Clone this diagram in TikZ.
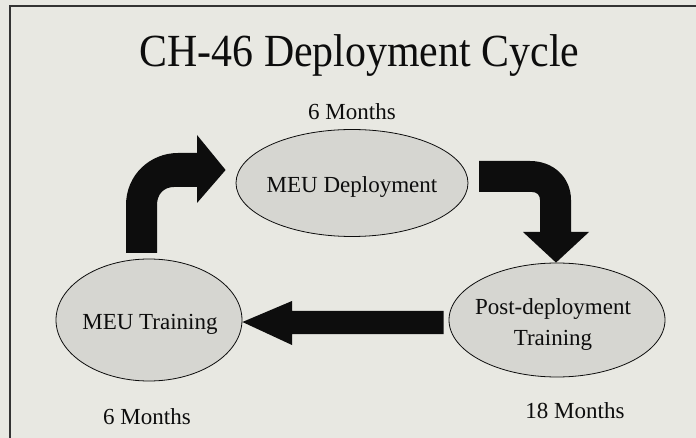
\documentclass[tikz,border=0pt]{standalone}
\usepackage{fontspec}
\setmainfont{Liberation Serif}
\usetikzlibrary{shapes.geometric}
\definecolor{bgc}{HTML}{E8E8E2}
\definecolor{ellfill}{HTML}{D6D6D1}
\definecolor{framec}{HTML}{333333}
\definecolor{inkc}{HTML}{0D0D0D}
\begin{document}
\begin{tikzpicture}[x=1pt,y=-1pt,
  stage/.style={ellipse,draw=inkc,line width=0.8pt,fill=ellfill,inner sep=0pt},
  txt/.style={anchor=base,inner sep=0pt,text=inkc,font=\fontsize{23}{28}\selectfont},
  blockarrow/.style={fill=inkc,draw=none}]
\fill[bgc] (0,0) rectangle (696,438);
\useasboundingbox (0,0) rectangle (696,438);
% frame (top and left only)
\draw[framec,line width=2pt] (10,438) -- (10,6) -- (696,6);
% title
\node[anchor=base,inner sep=0pt,text=inkc,font=\fontsize{46}{50}\selectfont,xscale=0.91] (title) at (359.5,67) {CH-46 Deployment Cycle};
% stages
\node[stage,minimum width=232pt,minimum height=107pt] (dep) at (352,183) {};
\node[stage,minimum width=186pt,minimum height=122pt] (trn) at (149,320) {};
\node[stage,minimum width=216pt,minimum height=114pt] (post) at (557,320) {};
% texts
\node[txt] (depT) at (352,193) {MEU Deployment};
\node[txt] (trnT) at (150,330) {MEU Training};
\node[txt] (postA) at (553,315) {Post-deployment};
\node[txt] (postB) at (553,345) {Training};
\node[txt] (m1) at (352,120) {6 Months};
\node[txt] (m2) at (147,424) {6 Months};
\node[txt] (m3) at (575,418) {18 Months};
% arrow: training -> deployment
\coordinate (t1) at ([xshift=-10pt,yshift=13pt]dep.west);
\fill[blockarrow] (126,253) -- (126,205) .. controls (126,175) and (150,153) .. (178,153)
  -- (197,153) -- (197,135) -- (t1) -- (197,203) -- (197,187) -- (174,187)
  .. controls (164,187) and (157,194) .. (157,205) -- (157,253) -- cycle;
% arrow: deployment -> post-deployment
\coordinate (t2) at ([xshift=-1pt]post.north);
\fill[blockarrow] (479,161) -- (530,161) .. controls (553,161) and (571,177) .. (571,200)
  -- (571,232) -- (589,232) -- (t2) -- (523,232) -- (540,232) -- (540,200)
  .. controls (540,195) and (537,192) .. (532,192) -- (479,192) -- cycle;
% arrow: post-deployment -> training
\coordinate (t3) at ([yshift=-2pt]trn.east);
\coordinate (s3) at ([xshift=-5pt]post.west);
\fill[blockarrow] (t3) -- (292,301) -- (292,311) -- (s3 |- 0,311) -- (s3 |- 0,334) -- (292,334) -- (292,345) -- cycle;
\end{tikzpicture}
\end{document}
